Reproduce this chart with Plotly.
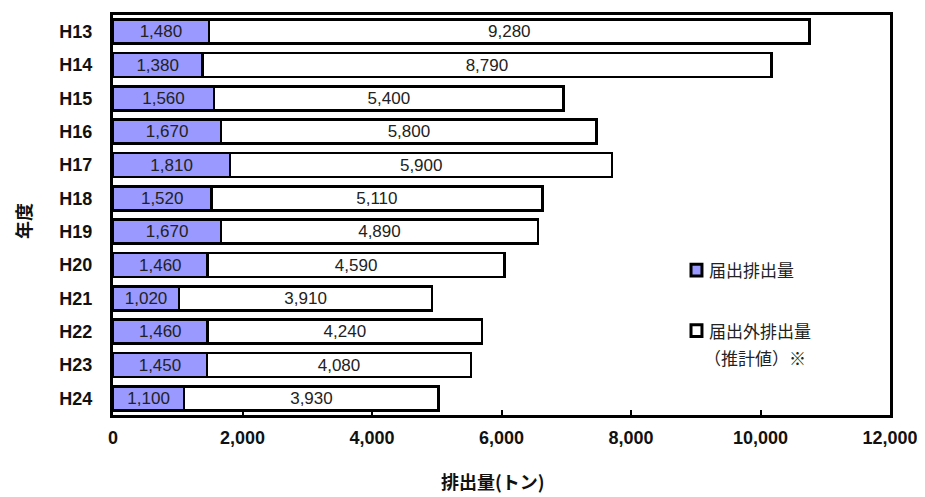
import plotly.graph_objects as go

years = ["H13", "H14", "H15", "H16", "H17", "H18", "H19", "H20", "H21", "H22", "H23", "H24"]
reported = [1480, 1380, 1560, 1670, 1810, 1520, 1670, 1460, 1020, 1460, 1450, 1100]
unreported = [9280, 8790, 5400, 5800, 5900, 5110, 4890, 4590, 3910, 4240, 4080, 3930]
x_ticks = [0, 2000, 4000, 6000, 8000, 10000, 12000]
legend_labels = ["届出排出量", "届出外排出量", "（推計値）※"]

BLUE = "#9999FF"
fmt = lambda v: f"{v:,}"
bar_font = dict(size=17, color="#222222", family="Liberation Sans, Arial")

fig = go.Figure()
fig.add_trace(go.Bar(
    y=years, x=reported, orientation="h", name=legend_labels[0],
    marker=dict(color=BLUE, line=dict(color="black", width=2.5)),
    text=[fmt(v) for v in reported], textposition="inside", insidetextanchor="middle",
    textangle=0, constraintext="none", textfont=bar_font,
))
fig.add_trace(go.Bar(
    y=years, x=unreported, orientation="h", name=legend_labels[1],
    marker=dict(color="white", line=dict(color="black", width=2.5)),
    text=[fmt(v) for v in unreported], textposition="inside", insidetextanchor="middle",
    textangle=0, constraintext="none", textfont=bar_font,
))

# page body has an 8px margin, so figure is sized to fill the remaining window
fig.update_layout(
    barmode="stack", bargap=0.28,
    width=917, height=489,
    margin=dict(l=105, r=35, t=4, b=82),
    plot_bgcolor="white", paper_bgcolor="white",
    font=dict(family="Liberation Sans, Arial, Noto Sans CJK JP", color="#222222"),
    showlegend=False,
)
fig.update_xaxes(
    range=[0, 12000], tickvals=x_ticks, ticktext=[fmt(v) for v in x_ticks],
    showgrid=False, zeroline=False,
    showline=True, mirror=True, linecolor="black", linewidth=3,
    ticks="inside", ticklen=5, tickwidth=2, tickcolor="black",
    tickfont=dict(size=18, family="Liberation Sans, Arial", color="#111111", weight="bold"),
    ticklabelstandoff=4,
)
fig.update_yaxes(
    autorange="reversed", showgrid=False,
    showline=True, mirror=True, linecolor="black", linewidth=3,
    ticks="", tickfont=dict(size=18, family="Liberation Sans, Arial", color="#111111", weight="bold"),
    ticklabelstandoff=14,
)

# axis titles
fig.add_annotation(text="排出量(トン)", xref="paper", yref="paper", x=0.489, y=-0.166,
                   xanchor="center", yanchor="middle", showarrow=False,
                   font=dict(size=18, family="Noto Sans CJK JP", color="#111111", weight="bold"))
fig.add_annotation(text="年度", xref="paper", yref="paper", x=-0.115, y=0.484,
                   xanchor="center", yanchor="middle", showarrow=False, textangle=-90,
                   font=dict(size=18, family="Noto Sans CJK JP", color="#111111", weight="bold"))

# custom legend
leg_font = dict(size=17, family="Noto Sans CJK JP", color="#222222")
fig.add_shape(type="rect", xref="paper", yref="paper", x0=0.7439, x1=0.758, y0=0.3474, y1=0.377,
              fillcolor=BLUE, line=dict(color="black", width=3))
fig.add_shape(type="rect", xref="paper", yref="paper", x0=0.7439, x1=0.758, y0=0.196, y1=0.2258,
              fillcolor="white", line=dict(color="black", width=3))
fig.add_annotation(text=legend_labels[0], xref="paper", yref="paper", x=0.764, y=0.3648,
                   xanchor="left", yanchor="middle", showarrow=False, font=leg_font)
fig.add_annotation(text=legend_labels[1], xref="paper", yref="paper", x=0.764, y=0.2109,
                   xanchor="left", yanchor="middle", showarrow=False, font=leg_font)
fig.add_annotation(text=legend_labels[2], xref="paper", yref="paper", x=0.758, y=0.1439,
                   xanchor="left", yanchor="middle", showarrow=False, font=leg_font)

fig.write_html("out.html")
